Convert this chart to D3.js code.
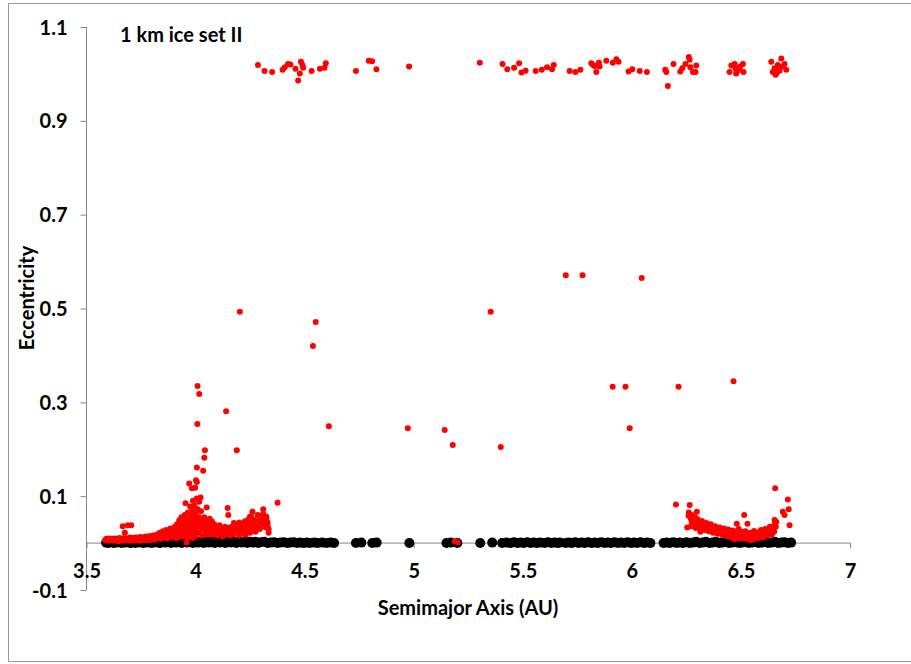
<!DOCTYPE html>
<html><head><meta charset="utf-8">
<script src="https://cdn.jsdelivr.net/npm/d3@7"></script>
<style>body{margin:0;background:#fff}svg{display:block}text{font-family:Lato,"Open Sans",sans-serif;font-weight:bold;fill:#000}</style>
</head><body>
<svg id="c" width="911" height="664"></svg>
<script>
const chartTitle = "1 km ice set II";
const xTitle = "Semimajor Axis (AU)";
const yTitle = "Eccentricity";
const xTicks = [3.5, 4, 4.5, 5, 5.5, 6, 6.5, 7];
const yTicks = [-0.1, 0.1, 0.3, 0.5, 0.7, 0.9, 1.1];

// black series: [semimajor axis, eccentricity]
const blackPts = [
[3.590,0.001],[3.600,0.000],[3.612,0.002],[3.625,0.000],[3.637,0.001],[3.650,0.002],[3.662,0.000],[3.675,0.001],[3.687,0.002],[3.700,0.000],
[3.712,0.001],[3.725,0.000],[3.737,0.002],[3.750,0.001],[3.762,0.000],[3.775,0.002],[3.787,0.001],[3.800,0.000],[3.812,0.002],[3.825,0.001],
[3.837,0.000],[3.850,0.002],[3.862,0.001],[3.875,0.003],[3.887,0.000],[3.900,0.002],[3.912,0.001],[3.925,0.004],[3.937,0.000],[3.950,0.003],
[3.962,0.001],[3.975,0.004],[3.987,0.000],[4.000,0.003],[4.012,0.001],[4.025,0.004],[4.037,0.000],[4.050,0.003],[4.062,0.001],[4.075,0.004],
[4.087,0.000],[4.100,0.003],[4.112,0.001],[4.125,0.004],[4.137,0.000],[4.150,0.003],[4.162,0.001],[4.175,0.004],[4.187,0.000],[4.200,0.003],
[4.212,0.001],[4.225,0.004],[4.237,0.000],[4.250,0.003],[4.262,0.001],[4.275,0.003],[4.287,0.000],[4.300,0.002],[4.315,0.003],[4.330,0.000],
[4.345,0.001],[4.360,0.002],[4.375,0.000],[4.390,0.001],[4.405,0.002],[4.420,0.000],[4.435,0.001],[4.450,0.002],[4.465,0.000],[4.480,0.001],
[4.495,0.000],[4.510,0.001],[4.525,0.000],[4.545,0.001],[4.560,0.000],[4.580,0.001],[4.600,0.000],[4.620,0.001],[4.635,0.000],
[4.735,0.000],[4.760,0.001],[4.810,0.000],[4.830,0.001],[4.980,0.000],[5.150,0.000],[5.170,0.001],[5.200,0.000],[5.305,0.000],[5.360,0.001],
[5.405,0.000],[5.425,0.001],[5.445,0.000],[5.460,0.002],[5.475,0.000],[5.490,0.001],[5.505,0.000],[5.520,0.002],[5.535,0.000],[5.550,0.001],
[5.565,0.000],[5.580,0.001],[5.600,0.000],[5.615,0.002],[5.630,0.000],[5.645,0.001],[5.660,0.000],[5.670,0.001],
[5.695,0.000],[5.710,0.001],[5.725,0.000],[5.740,0.002],[5.755,0.000],[5.770,0.001],[5.785,0.000],[5.800,0.002],[5.815,0.000],[5.830,0.001],
[5.845,0.000],[5.860,0.002],[5.875,0.000],[5.890,0.001],[5.905,0.000],[5.920,0.002],[5.935,0.000],[5.950,0.001],[5.965,0.000],[5.980,0.002],
[5.995,0.000],[6.010,0.001],[6.025,0.000],[6.040,0.002],[6.055,0.000],[6.070,0.001],[6.085,0.000],
[6.145,0.000],[6.160,0.001],[6.175,0.000],[6.190,0.002],[6.205,0.000],[6.220,0.001],[6.235,0.000],[6.250,0.002],[6.265,0.000],[6.280,0.001],
[6.295,0.003],[6.310,0.000],[6.325,0.001],[6.340,0.003],[6.355,0.000],[6.370,0.001],[6.385,0.003],[6.400,0.000],[6.415,0.001],[6.430,0.003],
[6.445,0.000],[6.460,0.001],[6.475,0.003],[6.490,0.000],[6.505,0.001],[6.520,0.003],[6.535,0.000],[6.550,0.001],[6.565,0.003],[6.580,0.000],
[6.595,0.001],[6.610,0.003],[6.625,0.000],[6.640,0.001],[6.655,0.003],[6.670,0.000],[6.685,0.001],[6.700,0.002],[6.715,0.000],[6.730,0.001]
];

// red series: [semimajor axis, eccentricity]
const redTop = [
[4.286,1.019],[4.316,1.006],[4.351,1.004],[4.399,1.009],[4.409,1.014],[4.424,1.021],[4.435,1.020],[4.458,1.011],[4.470,0.986],[4.478,1.001],
[4.483,1.026],[4.490,1.019],[4.493,1.013],[4.532,1.006],[4.570,1.011],[4.591,1.013],[4.597,1.023],[4.735,1.006],[4.794,1.028],[4.809,1.027],
[4.829,1.010],[4.979,1.016],[5.303,1.024],[5.407,1.021],[5.429,1.010],[5.460,1.013],[5.483,1.023],[5.494,1.003],[5.513,1.007],[5.559,1.006],
[5.587,1.009],[5.611,1.014],[5.634,1.010],[5.642,1.019],[5.715,1.006],[5.741,1.004],[5.764,1.009],[5.814,1.023],[5.822,1.019],[5.829,1.017],
[5.837,1.004],[5.849,1.024],[5.852,1.016],[5.883,1.028],[5.913,1.024],[5.929,1.031],[5.939,1.026],[5.985,1.005],[6.002,1.010],[6.036,1.006],
[6.069,1.004],[6.153,1.009],[6.158,1.004],[6.165,0.974],[6.191,1.021],[6.222,1.005],[6.231,1.012],[6.246,1.021],[6.261,1.036],[6.265,1.030],
[6.268,1.014],[6.280,1.004],[6.292,1.004],[6.295,1.018],[6.448,1.004],[6.456,1.018],[6.471,1.021],[6.475,1.012],[6.478,1.001],[6.486,1.007],
[6.497,1.016],[6.509,1.021],[6.512,1.004],[6.639,1.026],[6.646,1.004],[6.654,1.012],[6.659,0.998],[6.669,1.019],[6.677,1.007],[6.685,1.033],
[6.689,1.016],[6.700,1.021],[6.708,1.009],[6.654,1.005],[6.662,1.001],[6.666,1.010],[6.672,1.015],[6.480,1.010],[6.492,1.013]
];
const redMid = [
[4.203,0.493],[4.551,0.471],[4.538,0.420],[4.611,0.249],[4.973,0.245],[5.142,0.241],[5.179,0.209],[5.353,0.493],[5.399,0.205],
[5.697,0.571],[5.774,0.571],[5.912,0.333],[5.971,0.333],[5.990,0.245],[6.045,0.565],[6.214,0.333],[6.466,0.345],[5.188,0.004],[5.202,0.002],
[4.009,0.335],[4.017,0.318],[4.140,0.281],[4.008,0.254],[4.043,0.198],[4.189,0.198],[4.040,0.182],[4.006,0.161],[4.035,0.154],[4.002,0.134],
[4.006,0.130],[3.971,0.127],[3.983,0.117],[3.998,0.118],[4.023,0.097],[3.988,0.090],[3.954,0.085],[4.017,0.088],[4.051,0.076],[4.147,0.075],
[4.150,0.060],[4.376,0.086],[4.310,0.072],[4.330,0.038],[4.335,0.022],[3.959,0.001],[3.964,0.011],[3.988,0.011],[3.666,0.036],[3.689,0.038],
[3.705,0.038],[3.676,0.022],[4.176,0.043],[4.208,0.035],[4.249,0.056],[4.261,0.067],[4.292,0.058],[4.296,0.045],[4.319,0.056],[4.324,0.051]
];
const redInner = [
[3.585,0.006],[3.597,0.005],[3.609,0.007],[3.621,0.005],[3.633,0.006],[3.645,0.004],[3.657,0.006],[3.669,0.005],[3.681,0.007],[3.693,0.005],
[3.705,0.006],[3.717,0.005],[3.729,0.007],[3.741,0.005],[3.753,0.006],[3.765,0.006],[3.777,0.007],[3.789,0.006],[3.801,0.008],[3.813,0.007],
[3.591,0.009],[3.603,0.010],[3.615,0.009],[3.627,0.010],[3.639,0.009],[3.651,0.011],[3.663,0.010],[3.675,0.011],[3.687,0.010],[3.699,0.012],
[3.711,0.011],[3.723,0.012],[3.735,0.012],[3.747,0.013],[3.759,0.012],[3.771,0.014],[3.783,0.014],[3.795,0.015],[3.807,0.016],[3.819,0.017],
[3.820,0.010],[3.825,0.018],[3.830,0.013],[3.835,0.022],[3.840,0.009],[3.845,0.016],[3.850,0.025],[3.855,0.012],[3.860,0.020],[3.865,0.028],
[3.870,0.010],[3.875,0.017],[3.880,0.024],[3.885,0.031],[3.890,0.013],[3.895,0.021],[3.900,0.028],[3.905,0.035],[3.910,0.011],[3.910,0.018],
[3.915,0.025],[3.915,0.040],[3.920,0.012],[3.925,0.032],[3.925,0.048],[3.930,0.020],[3.935,0.038],[3.935,0.055],[3.940,0.014],[3.940,0.027],
[3.945,0.045],[3.950,0.020],[3.950,0.034],[3.950,0.060],[3.955,0.050],[3.960,0.012],[3.960,0.028],[3.960,0.042],[3.965,0.065],[3.970,0.020],
[3.970,0.036],[3.970,0.052],[3.975,0.078],[3.980,0.014],[3.980,0.030],[3.980,0.045],[3.980,0.062],[3.985,0.070],[3.990,0.022],[3.990,0.038],
[3.990,0.055],[3.995,0.080],[4.000,0.015],[4.000,0.030],[4.000,0.047],[4.000,0.064],[4.005,0.095],[4.010,0.040],[4.010,0.072],
[4.015,0.022],[4.015,0.055],[4.020,0.035],[4.025,0.048],[4.025,0.068],[4.030,0.016],[4.030,0.030],[4.035,0.042],[4.040,0.055],[4.045,0.024],
[4.045,0.036],[4.050,0.048],[4.055,0.018],[4.055,0.030],[4.060,0.042],[4.065,0.052],[4.070,0.024],[4.070,0.036],[4.075,0.046],[4.080,0.018],
[4.080,0.030],[4.085,0.040],[4.090,0.024],[4.095,0.034],[4.100,0.016],[4.105,0.028],[4.110,0.038],[4.115,0.020],[4.120,0.030],[4.125,0.014],
[4.130,0.025],[4.135,0.035],[4.140,0.018],[4.145,0.028],[4.150,0.022],[4.155,0.033],[4.160,0.016],[4.165,0.026],[4.170,0.036],
[4.175,0.020],[4.180,0.030],[4.185,0.040],[4.190,0.024],[4.195,0.034],[4.200,0.016],[4.200,0.044],[4.205,0.028],[4.210,0.038],[4.215,0.022],
[4.220,0.032],[4.225,0.046],[4.230,0.018],[4.230,0.040],[4.235,0.028],[4.240,0.050],[4.245,0.036],[4.250,0.022],[4.250,0.044],[4.255,0.056],
[4.260,0.030],[4.265,0.040],[4.270,0.050],[4.275,0.024],[4.280,0.036],[4.285,0.060],[4.290,0.046],[4.295,0.030],[4.300,0.054],[4.305,0.040],
[4.310,0.062],[4.315,0.048],[4.320,0.034],[4.325,0.056],[4.330,0.044],[4.335,0.030]
];
const redOuter = [
[6.202,0.082],[6.265,0.081],[6.261,0.065],[6.298,0.067],[6.254,0.033],[6.314,0.024],[6.515,0.060],[6.481,0.041],[6.530,0.041],[6.657,0.117],
[6.715,0.093],[6.719,0.072],[6.692,0.067],[6.700,0.060],[6.723,0.038],[6.654,0.049],
[6.270,0.052],[6.275,0.044],[6.280,0.048],[6.285,0.040],[6.290,0.046],[6.295,0.038],[6.300,0.043],[6.305,0.036],[6.310,0.041],[6.315,0.034],
[6.320,0.039],[6.325,0.032],[6.330,0.037],[6.340,0.035],[6.345,0.029],[6.350,0.033],[6.360,0.031],[6.365,0.026],[6.370,0.030],[6.380,0.028],
[6.385,0.023],[6.390,0.027],[6.400,0.025],[6.405,0.021],[6.410,0.025],[6.420,0.023],[6.425,0.019],[6.430,0.022],[6.440,0.021],[6.445,0.017],
[6.450,0.020],[6.460,0.019],[6.465,0.015],[6.470,0.018],[6.480,0.017],[6.485,0.013],[6.490,0.018],[6.500,0.016],[6.505,0.012],[6.510,0.017],
[6.520,0.015],[6.525,0.010],[6.530,0.016],[6.535,0.008],[6.540,0.014],[6.545,0.006],[6.550,0.017],[6.560,0.013],[6.565,0.019],[6.570,0.015],
[6.580,0.020],[6.585,0.016],[6.590,0.022],[6.600,0.018],[6.605,0.025],[6.610,0.021],[6.620,0.027],[6.625,0.023],[6.630,0.030],[6.640,0.026],
[6.645,0.034],[6.650,0.030],[6.655,0.040],[6.660,0.035],
[6.260,0.058],[6.275,0.060],[6.290,0.055],[6.420,0.028],[6.490,0.030],[6.520,0.025],[6.470,0.008],[6.560,0.026],
[6.272,0.036],[6.282,0.056],[6.292,0.032],[6.302,0.051],[6.312,0.029],[6.322,0.047],[6.332,0.028],[6.342,0.043],[6.352,0.025],[6.362,0.040],
[6.372,0.022],[6.382,0.036],[6.392,0.020],[6.402,0.033],[6.412,0.018],[6.422,0.031],[6.432,0.015],[6.442,0.029],[6.452,0.013],[6.462,0.027],
[6.472,0.012],[6.482,0.025],[6.492,0.010],[6.502,0.024],[6.512,0.009],[6.522,0.022],[6.532,0.020],[6.542,0.022],[6.552,0.009],[6.562,0.008],
[6.572,0.023],[6.582,0.011],[6.592,0.028],[6.602,0.012],[6.612,0.030],[6.622,0.016],[6.632,0.035],[6.642,0.019],[6.652,0.024],[6.662,0.045]
];
const redPts = redInner.concat(redOuter, redMid, redTop);

const svg = d3.select("#c");
svg.append("rect").attr("x",8.5).attr("y",3.5).attr("width",906).attr("height",658)
  .attr("fill","#fff").attr("stroke","#9a9a9a").attr("stroke-width",1);

const x = d3.scaleLinear().domain([3.5, 7]).range([86.5, 850]);
const y = d3.scaleLinear().domain([-0.1, 1.1]).range([590, 27]);
const axisColor = "#868686";
const fs = "20px";

// y axis
const gy = svg.append("g").attr("transform","translate(86.5,0)")
  .call(d3.axisLeft(y).tickValues(yTicks).tickSize(6).tickPadding(13)
    .tickFormat(d => d3.format(".1f")(d).replace("\u2212","-")));
gy.select(".domain").attr("stroke",axisColor).attr("d",`M-0,${y(-0.1)}V${y(1.1)}`);
gy.selectAll(".tick line").attr("stroke",axisColor);
gy.selectAll(".tick text").style("font-size",fs).attr("dy","0.35em");

// x axis at e = 0
const gx = svg.append("g").attr("transform",`translate(0,${y(0)})`)
  .call(d3.axisBottom(x).tickValues(xTicks).tickSize(5).tickPadding(16).tickFormat(d => String(d)));
gx.select(".domain").attr("stroke",axisColor).attr("d",`M${x(3.5)},0H${x(7)}`);
gx.selectAll(".tick line").attr("stroke",axisColor);
gx.selectAll(".tick text").style("font-size",fs);

// points
svg.append("g").selectAll("circle").data(blackPts).join("circle")
  .attr("cx",d=>x(d[0])).attr("cy",d=>y(d[1])).attr("r",5).attr("fill","#000");
svg.append("g").selectAll("circle").data(redPts).join("circle")
  .attr("cx",d=>x(d[0])).attr("cy",d=>y(d[1])).attr("r",3).attr("fill","#ff0000");

// titles
svg.append("text").attr("x",120).attr("y",42).style("font-size",fs).text(chartTitle);
svg.append("text").attr("x",468).attr("y",615).attr("text-anchor","middle").style("font-size",fs).text(xTitle);
svg.append("text").attr("transform","translate(34,298) rotate(-90)").attr("text-anchor","middle").style("font-size",fs).text(yTitle);
</script>
</body></html>
